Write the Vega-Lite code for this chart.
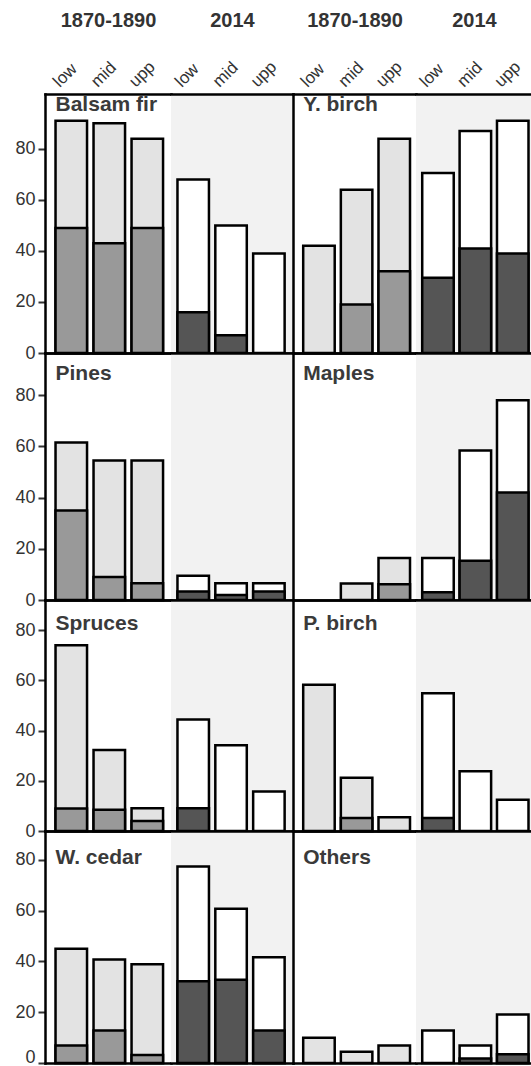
{
"$schema": "https://vega.github.io/schema/vega-lite/v6.json",
"padding": {"left": 14, "top": 10, "right": 0, "bottom": 0},
"background": "white",
"datasets": {"trees": [
{"species":"Balsam fir","period":"1870-1890","zone":"low","total":91,"lower":49},
{"species":"Balsam fir","period":"1870-1890","zone":"mid","total":90,"lower":43},
{"species":"Balsam fir","period":"1870-1890","zone":"upp","total":84,"lower":49},
{"species":"Balsam fir","period":"2014","zone":"low","total":68,"lower":16},
{"species":"Balsam fir","period":"2014","zone":"mid","total":50,"lower":7},
{"species":"Balsam fir","period":"2014","zone":"upp","total":39,"lower":0},
{"species":"Y. birch","period":"1870-1890","zone":"low","total":42,"lower":0},
{"species":"Y. birch","period":"1870-1890","zone":"mid","total":64,"lower":19},
{"species":"Y. birch","period":"1870-1890","zone":"upp","total":84,"lower":32},
{"species":"Y. birch","period":"2014","zone":"low","total":70.5,"lower":29.5},
{"species":"Y. birch","period":"2014","zone":"mid","total":87,"lower":41},
{"species":"Y. birch","period":"2014","zone":"upp","total":91,"lower":39},
{"species":"Pines","period":"1870-1890","zone":"low","total":61.5,"lower":35},
{"species":"Pines","period":"1870-1890","zone":"mid","total":54.5,"lower":9},
{"species":"Pines","period":"1870-1890","zone":"upp","total":54.5,"lower":6.5},
{"species":"Pines","period":"2014","zone":"low","total":9.5,"lower":3.3},
{"species":"Pines","period":"2014","zone":"mid","total":6.5,"lower":2},
{"species":"Pines","period":"2014","zone":"upp","total":6.5,"lower":3.3},
{"species":"Maples","period":"1870-1890","zone":"low","total":0,"lower":0},
{"species":"Maples","period":"1870-1890","zone":"mid","total":6.4,"lower":0},
{"species":"Maples","period":"1870-1890","zone":"upp","total":16.4,"lower":6.2},
{"species":"Maples","period":"2014","zone":"low","total":16.4,"lower":3},
{"species":"Maples","period":"2014","zone":"mid","total":58.4,"lower":15.3},
{"species":"Maples","period":"2014","zone":"upp","total":78,"lower":42},
{"species":"Spruces","period":"1870-1890","zone":"low","total":74,"lower":9},
{"species":"Spruces","period":"1870-1890","zone":"mid","total":32.3,"lower":8.5},
{"species":"Spruces","period":"1870-1890","zone":"upp","total":9.1,"lower":4},
{"species":"Spruces","period":"2014","zone":"low","total":44.4,"lower":9.1},
{"species":"Spruces","period":"2014","zone":"mid","total":34.2,"lower":0},
{"species":"Spruces","period":"2014","zone":"upp","total":15.7,"lower":0},
{"species":"P. birch","period":"1870-1890","zone":"low","total":58.2,"lower":0},
{"species":"P. birch","period":"1870-1890","zone":"mid","total":21.2,"lower":5.2},
{"species":"P. birch","period":"1870-1890","zone":"upp","total":5.5,"lower":0},
{"species":"P. birch","period":"2014","zone":"low","total":54.9,"lower":5.2},
{"species":"P. birch","period":"2014","zone":"mid","total":23.8,"lower":0},
{"species":"P. birch","period":"2014","zone":"upp","total":12.4,"lower":0},
{"species":"W. cedar","period":"1870-1890","zone":"low","total":45,"lower":6.9},
{"species":"W. cedar","period":"1870-1890","zone":"mid","total":40.7,"lower":12.8},
{"species":"W. cedar","period":"1870-1890","zone":"upp","total":38.9,"lower":3.1},
{"species":"W. cedar","period":"2014","zone":"low","total":77.3,"lower":32.2},
{"species":"W. cedar","period":"2014","zone":"mid","total":60.7,"lower":32.8},
{"species":"W. cedar","period":"2014","zone":"upp","total":41.6,"lower":12.8},
{"species":"Others","period":"1870-1890","zone":"low","total":9.9,"lower":0},
{"species":"Others","period":"1870-1890","zone":"mid","total":4.4,"lower":0},
{"species":"Others","period":"1870-1890","zone":"upp","total":6.9,"lower":0},
{"species":"Others","period":"2014","zone":"low","total":12.8,"lower":0},
{"species":"Others","period":"2014","zone":"mid","total":6.9,"lower":1.8},
{"species":"Others","period":"2014","zone":"upp","total":19.1,"lower":3.4}
]},
"data": {"name": "trees"},
"columns": 4,
"spacing": 0,
"bounds": "flush",
"concat": [
{"width":126,"height":259,"transform":[{"filter":"datum.species==='Balsam fir' && datum.period==='1870-1890'"}],
 "layer":[
  {"transform":[{"filter":"datum.total>0"}],"mark":{"type":"bar","fill":"#e3e3e3"},
   "encoding":{"x":{"field":"zone","type":"nominal","scale":{"domain":["low","mid","upp"],"paddingInner":0.171,"paddingOuter":0.243,"align":0.57},"axis":{"orient":"bottom","title":null}},
   "y":{"field":"total","type":"quantitative","scale":{"domain":[0,101.5],"nice":false},"axis":{"title":null,"ticks":true,"labels":true,"tickSize":7,"tickWidth":2,"tickColor":"#333","labelFontSize":18,"labelColor":"#333","labelPadding":3,"values":[0,20,40,60,80]}}}},
  {"transform":[{"filter":"datum.lower>0"}],"mark":{"type":"bar","fill":"#999999"},
   "encoding":{"x":{"field":"zone","type":"nominal","axis":{"orient":"top","title":"1870-1890","labels":true,"labelAngle":-45,"labelAlign":"left","labelBaseline":"middle","labelFontSize":17,"labelColor":"#333","labelPadding":10,"labelOffset":-15,"titleFontSize":20,"titleFontWeight":"bold","titleColor":"#333","titlePadding":27}},
   "y":{"field":"lower","type":"quantitative","axis":{"title":null,"ticks":true,"labels":true,"tickSize":7,"tickWidth":2,"tickColor":"#333","labelFontSize":18,"labelColor":"#333","labelPadding":3,"values":[0,20,40,60,80]}}}},
  {"transform":[{"filter":"datum.zone==='low'"}],"mark":{"type":"text","align":"left","baseline":"alphabetic","fontSize":21,"fontWeight":"bold","color":"#3a3a3a"},
   "encoding":{"x":{"field":"zone","type":"nominal","bandPosition":0,"axis":null},"y":{"datum":95,"type":"quantitative","axis":{"title":null,"ticks":true,"labels":true,"tickSize":7,"tickWidth":2,"tickColor":"#333","labelFontSize":18,"labelColor":"#333","labelPadding":3,"values":[0,20,40,60,80]}},"text":{"field":"species"}}}
 ],"resolve":{"axis":{"x":"independent"}}},
{"width":122,"height":259,"view":{"fill":"#f2f2f2"},"transform":[{"filter":"datum.species==='Balsam fir' && datum.period==='2014'"}],
 "layer":[
  {"transform":[{"filter":"datum.total>0"}],"mark":{"type":"bar","fill":"white"},
   "encoding":{"x":{"field":"zone","type":"nominal","scale":{"domain":["low","mid","upp"],"paddingInner":0.168,"paddingOuter":0.196,"align":0.436},"axis":{"orient":"bottom","title":null}},
   "y":{"field":"total","type":"quantitative","scale":{"domain":[0,101.5],"nice":false},"axis":null}}},
  {"transform":[{"filter":"datum.lower>0"}],"mark":{"type":"bar","fill":"#555555"},
   "encoding":{"x":{"field":"zone","type":"nominal","axis":{"orient":"top","title":"2014","labels":true,"labelAngle":-45,"labelAlign":"left","labelBaseline":"middle","labelFontSize":17,"labelColor":"#333","labelPadding":10,"labelOffset":-15,"titleFontSize":20,"titleFontWeight":"bold","titleColor":"#333","titlePadding":27}},
   "y":{"field":"lower","type":"quantitative","axis":null}}}
 ],"resolve":{"axis":{"x":"independent"}}},
{"width":123,"height":259,"transform":[{"filter":"datum.species==='Y. birch' && datum.period==='1870-1890'"}],
 "layer":[
  {"transform":[{"filter":"datum.total>0"}],"mark":{"type":"bar","fill":"#e3e3e3"},
   "encoding":{"x":{"field":"zone","type":"nominal","scale":{"domain":["low","mid","upp"],"paddingInner":0.163,"paddingOuter":0.215,"align":0.63},"axis":{"orient":"bottom","title":null}},
   "y":{"field":"total","type":"quantitative","scale":{"domain":[0,101.5],"nice":false},"axis":{"title":null}}}},
  {"transform":[{"filter":"datum.lower>0"}],"mark":{"type":"bar","fill":"#999999"},
   "encoding":{"x":{"field":"zone","type":"nominal","axis":{"orient":"top","title":"1870-1890","labels":true,"labelAngle":-45,"labelAlign":"left","labelBaseline":"middle","labelFontSize":17,"labelColor":"#333","labelPadding":10,"labelOffset":-15,"titleFontSize":20,"titleFontWeight":"bold","titleColor":"#333","titlePadding":27}},
   "y":{"field":"lower","type":"quantitative","axis":{"title":null}}}},
  {"transform":[{"filter":"datum.zone==='low'"}],"mark":{"type":"text","align":"left","baseline":"alphabetic","fontSize":21,"fontWeight":"bold","color":"#3a3a3a"},
   "encoding":{"x":{"field":"zone","type":"nominal","bandPosition":0,"axis":null},"y":{"datum":95,"type":"quantitative","axis":{"title":null}},"text":{"field":"species"}}}
 ],"resolve":{"axis":{"x":"independent"}}},
{"width":116,"height":259,"view":{"fill":"#f2f2f2"},"transform":[{"filter":"datum.species==='Y. birch' && datum.period==='2014'"}],
 "layer":[
  {"transform":[{"filter":"datum.total>0"}],"mark":{"type":"bar","fill":"white"},
   "encoding":{"x":{"field":"zone","type":"nominal","scale":{"domain":["low","mid","upp"],"paddingInner":0.157,"paddingOuter":0.13,"align":0.64},"axis":{"orient":"bottom","title":null}},
   "y":{"field":"total","type":"quantitative","scale":{"domain":[0,101.5],"nice":false},"axis":null}}},
  {"transform":[{"filter":"datum.lower>0"}],"mark":{"type":"bar","fill":"#555555"},
   "encoding":{"x":{"field":"zone","type":"nominal","axis":{"orient":"top","title":"2014","labels":true,"labelAngle":-45,"labelAlign":"left","labelBaseline":"middle","labelFontSize":17,"labelColor":"#333","labelPadding":10,"labelOffset":-15,"titleFontSize":20,"titleFontWeight":"bold","titleColor":"#333","titlePadding":27}},
   "y":{"field":"lower","type":"quantitative","axis":null}}}
 ],"resolve":{"axis":{"x":"independent"}}},

{"width":126,"height":247,"transform":[{"filter":"datum.species==='Pines' && datum.period==='1870-1890'"}],
 "layer":[
  {"transform":[{"filter":"datum.total>0"}],"mark":{"type":"bar","fill":"#e3e3e3"},
   "encoding":{"x":{"field":"zone","type":"nominal","scale":{"domain":["low","mid","upp"],"paddingInner":0.171,"paddingOuter":0.243,"align":0.57},"axis":{"orient":"bottom","title":null}},
   "y":{"field":"total","type":"quantitative","scale":{"domain":[0,96.5],"nice":false},"axis":{"title":null,"ticks":true,"labels":true,"tickSize":7,"tickWidth":2,"tickColor":"#333","labelFontSize":18,"labelColor":"#333","labelPadding":3,"values":[0,20,40,60,80]}}}},
  {"transform":[{"filter":"datum.lower>0"}],"mark":{"type":"bar","fill":"#999999"},
   "encoding":{"x":{"field":"zone","type":"nominal","axis":{"orient":"top","title":null}},
   "y":{"field":"lower","type":"quantitative","axis":{"title":null,"ticks":true,"labels":true,"tickSize":7,"tickWidth":2,"tickColor":"#333","labelFontSize":18,"labelColor":"#333","labelPadding":3,"values":[0,20,40,60,80]}}}},
  {"transform":[{"filter":"datum.zone==='low'"}],"mark":{"type":"text","align":"left","baseline":"alphabetic","fontSize":21,"fontWeight":"bold","color":"#3a3a3a"},
   "encoding":{"x":{"field":"zone","type":"nominal","bandPosition":0,"axis":null},"y":{"datum":86,"type":"quantitative","axis":{"title":null,"ticks":true,"labels":true,"tickSize":7,"tickWidth":2,"tickColor":"#333","labelFontSize":18,"labelColor":"#333","labelPadding":3,"values":[0,20,40,60,80]}},"text":{"field":"species"}}}
 ],"resolve":{"axis":{"x":"independent"}}},
{"width":122,"height":247,"view":{"fill":"#f2f2f2"},"transform":[{"filter":"datum.species==='Pines' && datum.period==='2014'"}],
 "layer":[
  {"transform":[{"filter":"datum.total>0"}],"mark":{"type":"bar","fill":"white"},
   "encoding":{"x":{"field":"zone","type":"nominal","scale":{"domain":["low","mid","upp"],"paddingInner":0.168,"paddingOuter":0.196,"align":0.436},"axis":{"orient":"bottom","title":null}},
   "y":{"field":"total","type":"quantitative","scale":{"domain":[0,96.5],"nice":false},"axis":null}}},
  {"transform":[{"filter":"datum.lower>0"}],"mark":{"type":"bar","fill":"#555555"},
   "encoding":{"x":{"field":"zone","type":"nominal","axis":{"orient":"top","title":null}},
   "y":{"field":"lower","type":"quantitative","axis":null}}}
 ],"resolve":{"axis":{"x":"independent"}}},
{"width":123,"height":247,"transform":[{"filter":"datum.species==='Maples' && datum.period==='1870-1890'"}],
 "layer":[
  {"transform":[{"filter":"datum.total>0"}],"mark":{"type":"bar","fill":"#e3e3e3"},
   "encoding":{"x":{"field":"zone","type":"nominal","scale":{"domain":["low","mid","upp"],"paddingInner":0.163,"paddingOuter":0.215,"align":0.63},"axis":{"orient":"bottom","title":null}},
   "y":{"field":"total","type":"quantitative","scale":{"domain":[0,96.5],"nice":false},"axis":{"title":null}}}},
  {"transform":[{"filter":"datum.lower>0"}],"mark":{"type":"bar","fill":"#999999"},
   "encoding":{"x":{"field":"zone","type":"nominal","axis":{"orient":"top","title":null}},
   "y":{"field":"lower","type":"quantitative","axis":{"title":null}}}},
  {"transform":[{"filter":"datum.zone==='low'"}],"mark":{"type":"text","align":"left","baseline":"alphabetic","fontSize":21,"fontWeight":"bold","color":"#3a3a3a"},
   "encoding":{"x":{"field":"zone","type":"nominal","bandPosition":0,"axis":null},"y":{"datum":86,"type":"quantitative","axis":{"title":null}},"text":{"field":"species"}}}
 ],"resolve":{"axis":{"x":"independent"}}},
{"width":116,"height":247,"view":{"fill":"#f2f2f2"},"transform":[{"filter":"datum.species==='Maples' && datum.period==='2014'"}],
 "layer":[
  {"transform":[{"filter":"datum.total>0"}],"mark":{"type":"bar","fill":"white"},
   "encoding":{"x":{"field":"zone","type":"nominal","scale":{"domain":["low","mid","upp"],"paddingInner":0.157,"paddingOuter":0.13,"align":0.64},"axis":{"orient":"bottom","title":null}},
   "y":{"field":"total","type":"quantitative","scale":{"domain":[0,96.5],"nice":false},"axis":null}}},
  {"transform":[{"filter":"datum.lower>0"}],"mark":{"type":"bar","fill":"#555555"},
   "encoding":{"x":{"field":"zone","type":"nominal","axis":{"orient":"top","title":null}},
   "y":{"field":"lower","type":"quantitative","axis":null}}}
 ],"resolve":{"axis":{"x":"independent"}}},

{"width":126,"height":231,"transform":[{"filter":"datum.species==='Spruces' && datum.period==='1870-1890'"}],
 "layer":[
  {"transform":[{"filter":"datum.total>0"}],"mark":{"type":"bar","fill":"#e3e3e3"},
   "encoding":{"x":{"field":"zone","type":"nominal","scale":{"domain":["low","mid","upp"],"paddingInner":0.171,"paddingOuter":0.243,"align":0.57},"axis":{"orient":"bottom","title":null}},
   "y":{"field":"total","type":"quantitative","scale":{"domain":[0,92],"nice":false},"axis":{"title":null,"ticks":true,"labels":true,"tickSize":7,"tickWidth":2,"tickColor":"#333","labelFontSize":18,"labelColor":"#333","labelPadding":3,"values":[0,20,40,60,80]}}}},
  {"transform":[{"filter":"datum.lower>0"}],"mark":{"type":"bar","fill":"#999999"},
   "encoding":{"x":{"field":"zone","type":"nominal","axis":{"orient":"top","title":null}},
   "y":{"field":"lower","type":"quantitative","axis":{"title":null,"ticks":true,"labels":true,"tickSize":7,"tickWidth":2,"tickColor":"#333","labelFontSize":18,"labelColor":"#333","labelPadding":3,"values":[0,20,40,60,80]}}}},
  {"transform":[{"filter":"datum.zone==='low'"}],"mark":{"type":"text","align":"left","baseline":"alphabetic","fontSize":21,"fontWeight":"bold","color":"#3a3a3a"},
   "encoding":{"x":{"field":"zone","type":"nominal","bandPosition":0,"axis":null},"y":{"datum":80,"type":"quantitative","axis":{"title":null,"ticks":true,"labels":true,"tickSize":7,"tickWidth":2,"tickColor":"#333","labelFontSize":18,"labelColor":"#333","labelPadding":3,"values":[0,20,40,60,80]}},"text":{"field":"species"}}}
 ],"resolve":{"axis":{"x":"independent"}}},
{"width":122,"height":231,"view":{"fill":"#f2f2f2"},"transform":[{"filter":"datum.species==='Spruces' && datum.period==='2014'"}],
 "layer":[
  {"transform":[{"filter":"datum.total>0"}],"mark":{"type":"bar","fill":"white"},
   "encoding":{"x":{"field":"zone","type":"nominal","scale":{"domain":["low","mid","upp"],"paddingInner":0.168,"paddingOuter":0.196,"align":0.436},"axis":{"orient":"bottom","title":null}},
   "y":{"field":"total","type":"quantitative","scale":{"domain":[0,92],"nice":false},"axis":null}}},
  {"transform":[{"filter":"datum.lower>0"}],"mark":{"type":"bar","fill":"#555555"},
   "encoding":{"x":{"field":"zone","type":"nominal","axis":{"orient":"top","title":null}},
   "y":{"field":"lower","type":"quantitative","axis":null}}}
 ],"resolve":{"axis":{"x":"independent"}}},
{"width":123,"height":231,"transform":[{"filter":"datum.species==='P. birch' && datum.period==='1870-1890'"}],
 "layer":[
  {"transform":[{"filter":"datum.total>0"}],"mark":{"type":"bar","fill":"#e3e3e3"},
   "encoding":{"x":{"field":"zone","type":"nominal","scale":{"domain":["low","mid","upp"],"paddingInner":0.163,"paddingOuter":0.215,"align":0.63},"axis":{"orient":"bottom","title":null}},
   "y":{"field":"total","type":"quantitative","scale":{"domain":[0,92],"nice":false},"axis":{"title":null}}}},
  {"transform":[{"filter":"datum.lower>0"}],"mark":{"type":"bar","fill":"#999999"},
   "encoding":{"x":{"field":"zone","type":"nominal","axis":{"orient":"top","title":null}},
   "y":{"field":"lower","type":"quantitative","axis":{"title":null}}}},
  {"transform":[{"filter":"datum.zone==='low'"}],"mark":{"type":"text","align":"left","baseline":"alphabetic","fontSize":21,"fontWeight":"bold","color":"#3a3a3a"},
   "encoding":{"x":{"field":"zone","type":"nominal","bandPosition":0,"axis":null},"y":{"datum":80,"type":"quantitative","axis":{"title":null}},"text":{"field":"species"}}}
 ],"resolve":{"axis":{"x":"independent"}}},
{"width":116,"height":231,"view":{"fill":"#f2f2f2"},"transform":[{"filter":"datum.species==='P. birch' && datum.period==='2014'"}],
 "layer":[
  {"transform":[{"filter":"datum.total>0"}],"mark":{"type":"bar","fill":"white"},
   "encoding":{"x":{"field":"zone","type":"nominal","scale":{"domain":["low","mid","upp"],"paddingInner":0.157,"paddingOuter":0.13,"align":0.64},"axis":{"orient":"bottom","title":null}},
   "y":{"field":"total","type":"quantitative","scale":{"domain":[0,92],"nice":false},"axis":null}}},
  {"transform":[{"filter":"datum.lower>0"}],"mark":{"type":"bar","fill":"#555555"},
   "encoding":{"x":{"field":"zone","type":"nominal","axis":{"orient":"top","title":null}},
   "y":{"field":"lower","type":"quantitative","axis":null}}}
 ],"resolve":{"axis":{"x":"independent"}}},

{"width":126,"height":232,"transform":[{"filter":"datum.species==='W. cedar' && datum.period==='1870-1890'"}],
 "layer":[
  {"transform":[{"filter":"datum.total>0"}],"mark":{"type":"bar","fill":"#e3e3e3"},
   "encoding":{"x":{"field":"zone","type":"nominal","scale":{"domain":["low","mid","upp"],"paddingInner":0.171,"paddingOuter":0.243,"align":0.57},"axis":{"orient":"bottom","title":null}},
   "y":{"field":"total","type":"quantitative","scale":{"domain":[0,91.3],"nice":false},"axis":{"title":null,"ticks":true,"labels":true,"tickSize":7,"tickWidth":2,"tickColor":"#333","labelFontSize":18,"labelColor":"#333","labelPadding":3,"values":[0,20,40,60,80],"labelFlush":true,"labelFlushOffset":3}}}},
  {"transform":[{"filter":"datum.lower>0"}],"mark":{"type":"bar","fill":"#999999"},
   "encoding":{"x":{"field":"zone","type":"nominal","axis":{"orient":"top","title":null}},
   "y":{"field":"lower","type":"quantitative","axis":{"title":null,"ticks":true,"labels":true,"tickSize":7,"tickWidth":2,"tickColor":"#333","labelFontSize":18,"labelColor":"#333","labelPadding":3,"values":[0,20,40,60,80],"labelFlush":true,"labelFlushOffset":3}}}},
  {"transform":[{"filter":"datum.zone==='low'"}],"mark":{"type":"text","align":"left","baseline":"alphabetic","fontSize":21,"fontWeight":"bold","color":"#3a3a3a"},
   "encoding":{"x":{"field":"zone","type":"nominal","bandPosition":0,"axis":null},"y":{"datum":78.5,"type":"quantitative","axis":{"title":null,"ticks":true,"labels":true,"tickSize":7,"tickWidth":2,"tickColor":"#333","labelFontSize":18,"labelColor":"#333","labelPadding":3,"values":[0,20,40,60,80],"labelFlush":true,"labelFlushOffset":3}},"text":{"field":"species"}}}
 ],"resolve":{"axis":{"x":"independent"}}},
{"width":122,"height":232,"view":{"fill":"#f2f2f2"},"transform":[{"filter":"datum.species==='W. cedar' && datum.period==='2014'"}],
 "layer":[
  {"transform":[{"filter":"datum.total>0"}],"mark":{"type":"bar","fill":"white"},
   "encoding":{"x":{"field":"zone","type":"nominal","scale":{"domain":["low","mid","upp"],"paddingInner":0.168,"paddingOuter":0.196,"align":0.436},"axis":{"orient":"bottom","title":null}},
   "y":{"field":"total","type":"quantitative","scale":{"domain":[0,91.3],"nice":false},"axis":null}}},
  {"transform":[{"filter":"datum.lower>0"}],"mark":{"type":"bar","fill":"#555555"},
   "encoding":{"x":{"field":"zone","type":"nominal","axis":{"orient":"top","title":null}},
   "y":{"field":"lower","type":"quantitative","axis":null}}}
 ],"resolve":{"axis":{"x":"independent"}}},
{"width":123,"height":232,"transform":[{"filter":"datum.species==='Others' && datum.period==='1870-1890'"}],
 "layer":[
  {"transform":[{"filter":"datum.total>0"}],"mark":{"type":"bar","fill":"#e3e3e3"},
   "encoding":{"x":{"field":"zone","type":"nominal","scale":{"domain":["low","mid","upp"],"paddingInner":0.163,"paddingOuter":0.215,"align":0.63},"axis":{"orient":"bottom","title":null}},
   "y":{"field":"total","type":"quantitative","scale":{"domain":[0,91.3],"nice":false},"axis":{"title":null}}}},
  {"transform":[{"filter":"datum.lower>0"}],"mark":{"type":"bar","fill":"#999999"},
   "encoding":{"x":{"field":"zone","type":"nominal","axis":{"orient":"top","title":null}},
   "y":{"field":"lower","type":"quantitative","axis":{"title":null}}}},
  {"transform":[{"filter":"datum.zone==='low'"}],"mark":{"type":"text","align":"left","baseline":"alphabetic","fontSize":21,"fontWeight":"bold","color":"#3a3a3a"},
   "encoding":{"x":{"field":"zone","type":"nominal","bandPosition":0,"axis":null},"y":{"datum":78.5,"type":"quantitative","axis":{"title":null}},"text":{"field":"species"}}}
 ],"resolve":{"axis":{"x":"independent"}}},
{"width":116,"height":232,"view":{"fill":"#f2f2f2"},"transform":[{"filter":"datum.species==='Others' && datum.period==='2014'"}],
 "layer":[
  {"transform":[{"filter":"datum.total>0"}],"mark":{"type":"bar","fill":"white"},
   "encoding":{"x":{"field":"zone","type":"nominal","scale":{"domain":["low","mid","upp"],"paddingInner":0.157,"paddingOuter":0.13,"align":0.64},"axis":{"orient":"bottom","title":null}},
   "y":{"field":"total","type":"quantitative","scale":{"domain":[0,91.3],"nice":false},"axis":null}}},
  {"transform":[{"filter":"datum.lower>0"}],"mark":{"type":"bar","fill":"#555555"},
   "encoding":{"x":{"field":"zone","type":"nominal","axis":{"orient":"top","title":null}},
   "y":{"field":"lower","type":"quantitative","axis":null}}}
 ],"resolve":{"axis":{"x":"independent"}}}
],
"config": {
 "view": {"stroke": null},
 "font": "Liberation Sans",
 "bar": {"stroke": "black", "strokeWidth": 2.5},
 "axis": {"domainColor": "black", "domainWidth": 2.5, "domainCap": "square", "grid": false, "ticks": false, "labels": false, "labelOverlap": false, "labelFont": "Liberation Sans", "titleFont": "Liberation Sans"}
}
}
